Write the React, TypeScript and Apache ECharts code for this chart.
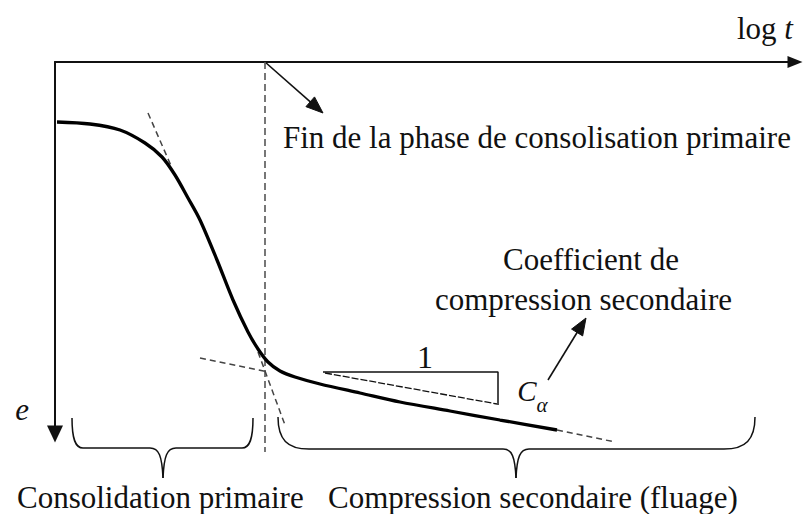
import React, { useEffect, useRef } from "react";
import * as echarts from "echarts";

// ---- data (units: log t along x, void ratio e downward) ----
const T_MAX = 740;
const E_MAX = 372;

const curveLogT = [2, 35, 65, 90, 107, 120, 133, 145, 162, 178, 193, 203, 213, 225, 240, 265, 305, 345, 395, 445, 502];
const curveE = [60, 62, 68, 81, 95, 113, 136, 158, 198, 238, 270, 287, 300, 309, 315, 322, 331, 340, 349, 358, 368];

const creepExtLogT = [502, 560];
const creepExtE = [368, 380];

const tangentTopLogT = [93, 117];
const tangentTopE = [51, 106];
const tangentSecLogT = [145, 213];
const tangentSecE = [296, 310];
const tangentPrimLogT = [203, 230];
const tangentPrimE = [290, 363];

const endPrimaryLogT = [210, 210];
const endPrimaryE = [0, 390];

const slopeLogT = [268, 443, 443];
const slopeE = [310, 310, 343];
const slopeHypLogT = [270, 442];
const slopeHypE = [311, 342];

const arrowFinLogT = [210, 268];
const arrowFinE = [0, 51];
const arrowCaLogT = [493, 531];
const arrowCaE = [318, 256];

const braceStartLogT = [17, 223];
const braceEndLogT = [198, 700];
const braceTipLogT = [108, 461];
const braceTopE = [356, 355];
const braceBarE = [386, 387];
const braceTipE = [416, 416];
const braceRadius = [11, 31];

const FONT = "Liberation Serif";
const INK = "#111";
const DASH_INK = "#444";

function pairs(ts: number[], es: number[]) {
  return ts.map((t, i) => [t, es[i]]);
}

function seg(ts: number[], es: number[], lineStyle: any, extra: any = {}) {
  return {
    type: "line",
    data: pairs(ts, es),
    symbol: "none",
    clip: false,
    silent: true,
    lineStyle,
    ...extra,
  };
}

const dashed = { color: DASH_INK, width: 1.5, type: [6, 4] };

export default function App() {
  const ref = useRef<HTMLDivElement>(null);

  useEffect(() => {
    if (!ref.current) return;
    const chart = echarts.init(ref.current, null, { renderer: "svg" });
    chart.setOption({
      animation: false,
      backgroundColor: "#fff",
      textStyle: { fontFamily: FONT },
      grid: { left: 55, top: 62, width: 740, height: 372, containLabel: false },
      xAxis: {
        type: "value",
        min: 0,
        max: T_MAX,
        position: "top",
        axisLine: {
          show: true,
          onZero: false,
          symbol: ["none", "triangle"],
          symbolSize: [12, 15],
          lineStyle: { color: INK, width: 2 },
        },
        axisTick: { show: false },
        axisLabel: { show: false },
        splitLine: { show: false },
      },
      yAxis: {
        type: "value",
        min: 0,
        max: E_MAX,
        inverse: true,
        position: "left",
        axisLine: {
          show: true,
          onZero: false,
          symbol: ["triangle", "none"],
          symbolSize: [16, 17],
          lineStyle: { color: INK, width: 2 },
        },
        axisTick: { show: false },
        axisLabel: { show: false },
        splitLine: { show: false },
      },
      series: [
        seg(endPrimaryLogT, endPrimaryE, { color: "#555", width: 1.6, type: [7, 4] }),
        seg(tangentTopLogT, tangentTopE, dashed),
        seg(tangentSecLogT, tangentSecE, dashed),
        seg(tangentPrimLogT, tangentPrimE, dashed),
        seg(creepExtLogT, creepExtE, dashed),
        seg(slopeLogT, slopeE, { color: INK, width: 1.5 }),
        seg(slopeHypLogT, slopeHypE, { color: INK, width: 1.3, type: [7, 2] }),
        seg(curveLogT, curveE, { color: "#000", width: 3.3 }, { smooth: 0.3, z: 5 }),
      ],
    });

    const px = (t: number, e: number) =>
      chart.convertToPixel({ gridIndex: 0 }, [t, e]) as number[];

    const stroke = { stroke: INK, lineWidth: 1.5, fill: "none" };
    const elements: any[] = [];

    const arrow = (ts: number[], es: number[]) => {
      const a = px(ts[0], es[0]);
      const b = px(ts[1], es[1]);
      const dx = b[0] - a[0];
      const dy = b[1] - a[1];
      const len = Math.hypot(dx, dy);
      const ux = dx / len;
      const uy = dy / len;
      const L = 17;
      const W = 6.5;
      const bx = b[0] - ux * L;
      const by = b[1] - uy * L;
      elements.push({
        type: "line",
        shape: { x1: a[0], y1: a[1], x2: bx + ux * 2, y2: by + uy * 2 },
        style: { stroke: INK, lineWidth: 1.6 },
        silent: true,
      });
      elements.push({
        type: "polygon",
        shape: {
          points: [
            [b[0], b[1]],
            [bx - uy * W, by + ux * W],
            [bx + uy * W, by - ux * W],
          ],
        },
        style: { fill: INK, stroke: INK, lineWidth: 1 },
        silent: true,
      });
    };
    arrow(arrowFinLogT, arrowFinE);
    arrow(arrowCaLogT, arrowCaE);

    const bez = (x1: number, y1: number, c1x: number, c1y: number, c2x: number, c2y: number, x2: number, y2: number) => ({
      type: "bezierCurve",
      shape: { x1, y1, cpx1: c1x, cpy1: c1y, cpx2: c2x, cpy2: c2y, x2, y2 },
      style: { ...stroke },
      silent: true,
    });
    const ln = (x1: number, y1: number, x2: number, y2: number) => ({
      type: "line",
      shape: { x1, y1, x2, y2 },
      style: { ...stroke },
      silent: true,
    });

    braceStartLogT.forEach((_, i) => {
      const [x0, yTop] = px(braceStartLogT[i], braceTopE[i]);
      const [x1] = px(braceEndLogT[i], braceTopE[i]);
      const [xm, yTip] = px(braceTipLogT[i], braceTipE[i]);
      const yBar = px(braceTipLogT[i], braceBarE[i])[1];
      const r = braceRadius[i];
      const k = 13;
      const h = yBar - yTop;
      elements.push(
        bez(x0, yTop, x0, yTop + h * 0.7, x0 + r * 0.3, yBar, x0 + r, yBar),
        ln(x0 + r, yBar, xm - k, yBar),
        bez(xm - k, yBar, xm - 4, yBar, xm - 1, yBar + 8, xm, yTip),
        bez(xm, yTip, xm + 1, yBar + 8, xm + 4, yBar, xm + k, yBar),
        ln(xm + k, yBar, x1 - r, yBar),
        bez(x1 - r, yBar, x1 - r * 0.3, yBar, x1, yTop + h * 0.7, x1, yTop)
      );
    });

    const text = (t: string, x: number, y: number, size: number, opts: any = {}) => ({
      type: "text",
      x,
      y,
      silent: true,
      style: {
        text: t,
        fill: INK,
        fontFamily: FONT,
        fontSize: size,
        fontStyle: opts.italic ? "italic" : "normal",
        align: opts.align || "left",
        verticalAlign: "middle",
      },
    });

    elements.push(
      text("Fin de la phase de consolisation primaire", 283, 137.5, 31),
      text("Coefficient de", 503, 259.5, 31),
      text("compression secondaire", 435, 299.5, 31),
      text("Consolidation primaire", 17, 497.5, 31),
      text("Compression secondaire (fluage)", 328, 497.5, 31),
      text("1", 425, 357, 32, { align: "center" }),
      text("e", 22, 409, 31, { italic: true, align: "center" }),
      text("C", 527, 391, 29, { italic: true, align: "center" }),
      text("α", 542, 405, 21, { italic: true, align: "center" }),
      {
        type: "text",
        x: 737,
        y: 28,
        silent: true,
        style: {
          text: "{a|log }{b|t}",
          verticalAlign: "middle",
          align: "left",
          rich: {
            a: { fontFamily: FONT, fontSize: 31, fill: INK },
            b: { fontFamily: FONT, fontSize: 31, fontStyle: "italic", fill: INK },
          },
        },
      }
    );

    chart.setOption({ graphic: { elements } });

    return () => chart.dispose();
  }, []);

  return (
    <div
      ref={ref}
      style={{ position: "fixed", left: 0, top: 0, width: 803, height: 514, background: "#fff" }}
    />
  );
}
